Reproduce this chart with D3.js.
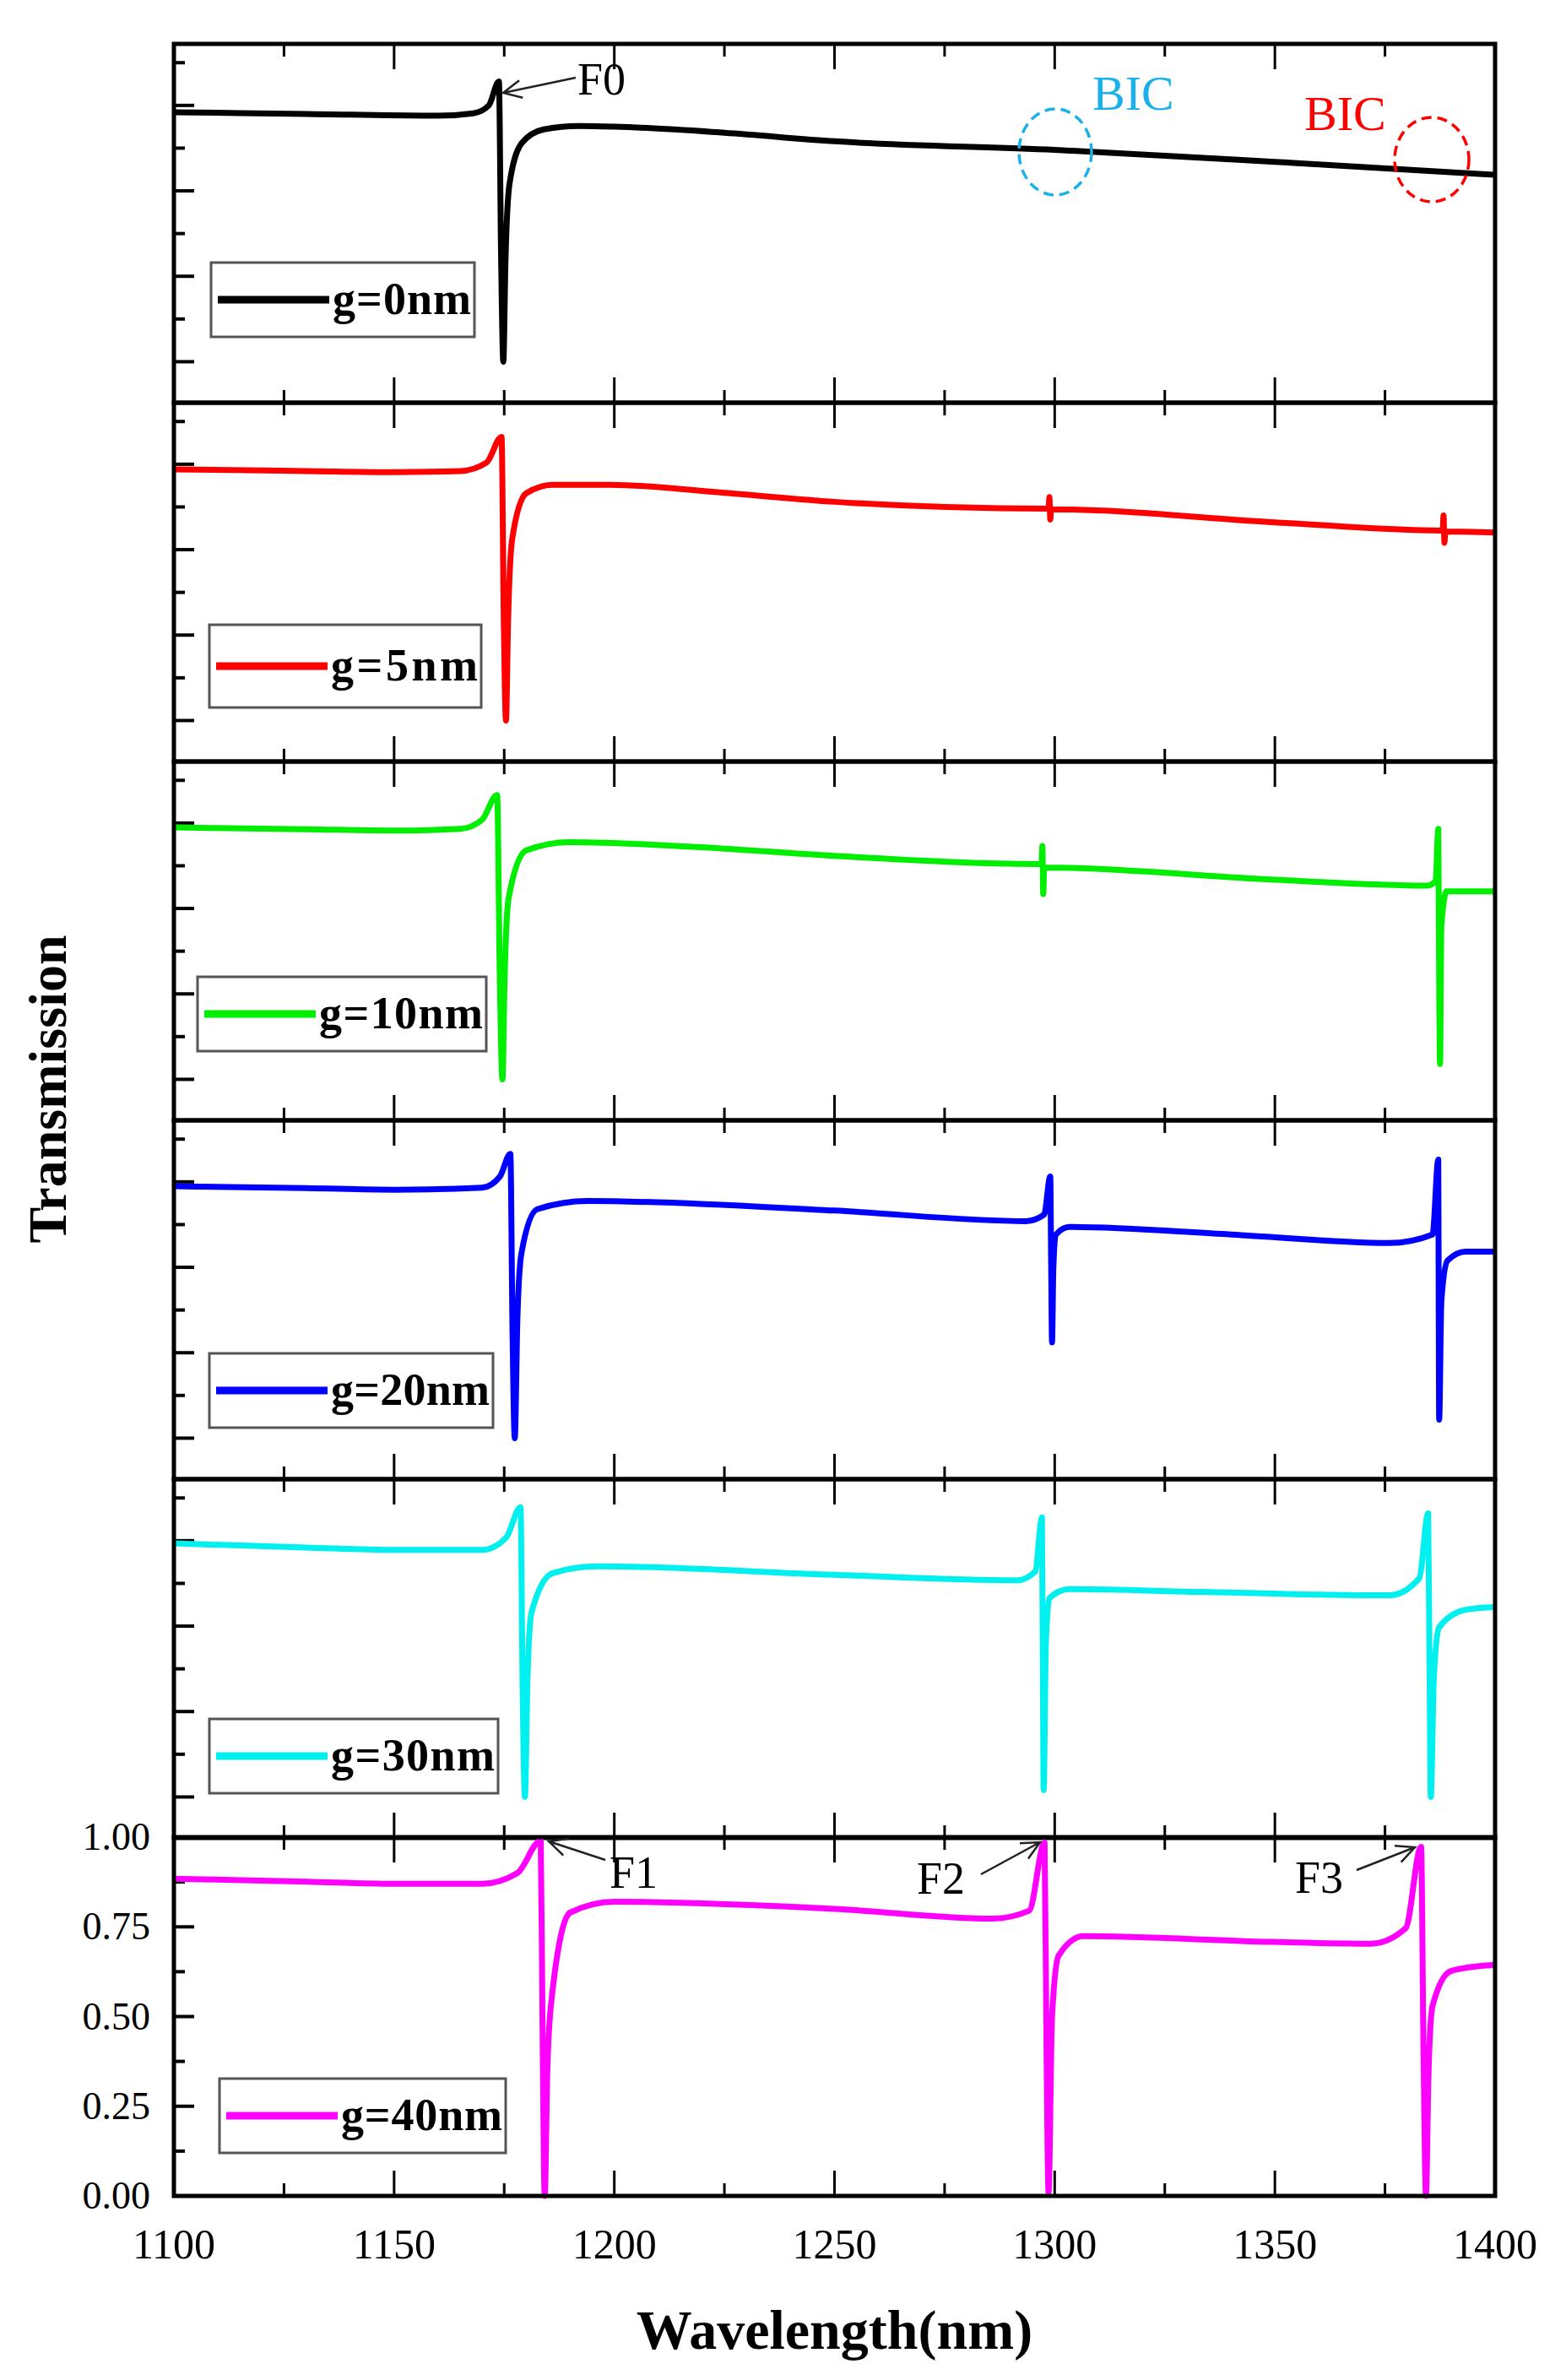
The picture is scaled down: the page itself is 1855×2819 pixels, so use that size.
<!DOCTYPE html>
<html>
<head>
<meta charset="utf-8">
<script src="https://cdn.jsdelivr.net/npm/d3@7"></script>
<style>
  body { margin: 0; background: #fff; }
  svg text { font-family: "Liberation Serif", "Times New Roman", serif; }
</style>
</head>
<body>
<svg id="chart" width="1855" height="2819"></svg>
<script>
// series labels, colours and transmission spectra
const labels = ['g=0nm', 'g=5nm', 'g=10nm', 'g=20nm', 'g=30nm', 'g=40nm'];
const colors = ['#000000', '#ff0000', '#00ee00', '#0000ff', '#00f0f0', '#ff00ff'];

const g0 = [[1100,0.73],[1130,0.725],[1160,0.72],[1168,0.727],[1171.5,0.75],[1173.8,0.82],[1174.3,0.3],[1174.8,0.0],[1175.3,0.3],[1176.2,0.52],[1179,0.64],[1184,0.68],[1192,0.69],[1200,0.688],[1225,0.67],[1250,0.645],[1300,0.62],[1350,0.585],[1400,0.547]];
const g5 = [[1100,0.735],[1130,0.73],[1150,0.727],[1165,0.73],[1171,0.755],[1174.4,0.83],[1174.9,0.3],[1175.4,0.0],[1175.9,0.3],[1176.8,0.53],[1180,0.665],[1186,0.69],[1199,0.69],[1225,0.666],[1250,0.64],[1298.6,0.62],[1298.8,0.654],[1299.0,0.588],[1299.2,0.618],[1350,0.58],[1388.1,0.556],[1388.3,0.6],[1388.5,0.52],[1388.7,0.553],[1400,0.55]];
const g10 = [[1100,0.737],[1130,0.732],[1150,0.728],[1165,0.733],[1170,0.76],[1173.4,0.832],[1174.0,0.3],[1174.6,0.0],[1175.1,0.3],[1176,0.53],[1180,0.67],[1190,0.694],[1225,0.675],[1250,0.654],[1297.0,0.63],[1297.2,0.683],[1297.4,0.542],[1297.6,0.62],[1350,0.584],[1384.5,0.567],[1386.5,0.58],[1387.1,0.733],[1387.3,0.3],[1387.5,0.045],[1387.8,0.45],[1389,0.55],[1400,0.55]];
const g20 = [[1100,0.737],[1130,0.732],[1150,0.727],[1170,0.733],[1174,0.765],[1176.4,0.832],[1176.9,0.3],[1177.4,0.0],[1178,0.35],[1178.9,0.54],[1182.5,0.67],[1194,0.694],[1250,0.666],[1293.5,0.635],[1297.6,0.654],[1299.0,0.766],[1299.2,0.5],[1299.4,0.28],[1299.7,0.5],[1300.3,0.596],[1303.3,0.618],[1340,0.596],[1376,0.571],[1385.8,0.596],[1387.1,0.815],[1387.2,0.4],[1387.3,0.054],[1387.8,0.4],[1389.2,0.52],[1393.3,0.546],[1400,0.546]];
const g30 = [[1100,0.742],[1130,0.73],[1150,0.723],[1170,0.723],[1175.5,0.76],[1178.7,0.848],[1179.2,0.3],[1179.7,0.0],[1180.3,0.35],[1181.2,0.54],[1186,0.655],[1196,0.675],[1250,0.65],[1291.5,0.634],[1295.6,0.66],[1297.1,0.818],[1297.3,0.4],[1297.5,0.02],[1298.0,0.45],[1298.8,0.582],[1303.3,0.608],[1333,0.6],[1376,0.59],[1382.8,0.64],[1384.8,0.83],[1385.1,0.4],[1385.4,0.0],[1386.1,0.35],[1387.3,0.497],[1393.3,0.548],[1400,0.556]];
const g40 = [[1100,0.884],[1130,0.876],[1150,0.87],[1170,0.87],[1178,0.9],[1183.3,0.99],[1183.75,0.4],[1184.2,0.0],[1184.8,0.35],[1185.6,0.53],[1190,0.79],[1200,0.82],[1250,0.8],[1286,0.773],[1294.2,0.795],[1297.7,0.984],[1298.15,0.4],[1298.6,0.01],[1299.4,0.5],[1300.9,0.67],[1306.5,0.724],[1349.3,0.708],[1371.8,0.703],[1379.7,0.746],[1383.2,0.973],[1383.75,0.4],[1384.3,0.0],[1384.9,0.35],[1385.8,0.53],[1390,0.627],[1398.7,0.643],[1400,0.644]];
const series = [g0, g5, g10, g20, g30, g40];

const xTicks = [1100, 1150, 1200, 1250, 1300, 1350, 1400];
const yTickLabels = ['0.00', '0.25', '0.50', '0.75', '1.00'];

// layout
const left = 206, right = 1771;
const panelTops = [52, 477, 902, 1327, 1752, 2176];
const panelH = 425;
const legendBoxes = [[250, 259, 312, 88], [248, 263, 322, 98], [234, 255, 342, 88], [248, 276, 336, 88], [248, 284, 342, 88], [260, 286, 339, 88]];

const svg = d3.select('#chart');
const x = d3.scaleLinear().domain([1100, 1400]).range([left, right]);
const line = d3.line().curve(d3.curveMonotoneX);

series.forEach((data, i) => {
  const top = panelTops[i];
  const bottom = top + panelH;
  const last = i === series.length - 1;
  const y = d3.scaleLinear().domain(last ? [0, 1] : [-0.12, 0.93]).range([bottom, top]);
  const g = svg.append('g');

  // ticks on top and bottom, pointing inward
  const xMinor = d3.range(1100, 1401, 25);
  [bottom, top].forEach((yy, k) => {
    g.selectAll(null).data(xMinor).join('line')
      .attr('x1', d => x(d)).attr('x2', d => x(d))
      .attr('y1', yy)
      .attr('y2', d => yy + (k === 0 ? -1 : 1) * (d % 50 === 0 ? 30 : 15))
      .attr('stroke', '#000').attr('stroke-width', 3);
  });
  // y ticks on left
  const yVals = d3.range(0, last ? 1.001 : 0.876, 0.125);
  g.selectAll(null).data(yVals).join('line')
    .attr('x1', left).attr('x2', (d, j) => left + (j % 2 === 0 ? 24 : 13))
    .attr('y1', d => y(d)).attr('y2', d => y(d))
    .attr('stroke', '#000').attr('stroke-width', 4);

  // curve
  g.append('path')
    .attr('d', line(data.map(d => [x(d[0]), y(d[1])])))
    .attr('fill', 'none').attr('stroke', colors[i]).attr('stroke-width', 7)
    .attr('stroke-linejoin', 'round');

  // frame
  g.append('rect').attr('x', left).attr('y', top).attr('width', right - left).attr('height', panelH)
    .attr('fill', 'none').attr('stroke', '#000').attr('stroke-width', 5);

  // legend
  const [lx, ly, lw, lh] = legendBoxes[i];
  const lg = g.append('g').attr('transform', `translate(${lx},${top + ly})`);
  lg.append('rect').attr('width', lw).attr('height', lh).attr('fill', '#fff')
    .attr('stroke', '#555').attr('stroke-width', 3);
  lg.append('line').attr('x1', 8).attr('x2', 140).attr('y1', lh / 2).attr('y2', lh / 2)
    .attr('stroke', colors[i]).attr('stroke-width', 9);
  lg.append('text').attr('x', lw - 4).attr('y', lh / 2 + 17).attr('text-anchor', 'end')
    .attr('font-size', 54).attr('font-weight', 'bold').attr('textLength', lw - 148)
    .text(labels[i]);

  if (last) {
    g.selectAll(null).data(yTickLabels).join('text')
      .attr('x', 178).attr('y', (d, j) => y(j * 0.25) + 15)
      .attr('text-anchor', 'end').attr('font-size', 46).text(d => d);
    g.selectAll(null).data(xTicks).join('text')
      .attr('x', d => x(d)).attr('y', bottom + 74)
      .attr('text-anchor', 'middle').attr('font-size', 50).text(d => d);
  }
});

// axis titles
svg.append('text').attr('x', (left + right) / 2).attr('y', 2782).attr('text-anchor', 'middle')
  .attr('font-size', 66).attr('font-weight', 'bold').text('Wavelength(nm)');
svg.append('text').attr('transform', 'translate(78,1290) rotate(-90)').attr('text-anchor', 'middle')
  .attr('font-size', 64).attr('font-weight', 'bold').text('Transmission');

// annotations
const arrow = (x1, y1, x2, y2) => {
  const a = Math.atan2(y2 - y1, x2 - x1), h = 24;
  svg.append('path')
    .attr('d', `M${x1},${y1}L${x2},${y2}M${x2 - h * Math.cos(a - 0.45)},${y2 - h * Math.sin(a - 0.45)}L${x2},${y2}L${x2 - h * Math.cos(a + 0.45)},${y2 - h * Math.sin(a + 0.45)}`)
    .attr('fill', 'none').attr('stroke', '#222').attr('stroke-width', 2.5);
};
const note = (t, tx, ty, color, size) => svg.append('text').attr('x', tx).attr('y', ty)
  .attr('font-size', size).attr('fill', color).text(t);

note('F0', 684, 112, '#000', 54);
arrow(682, 92, 596, 110);
note('BIC', 1294, 130, '#1ab0ea', 58);
note('BIC', 1545, 154, '#ff0000', 58);
svg.append('ellipse').attr('cx', 1250).attr('cy', 180).attr('rx', 43).attr('ry', 51)
  .attr('fill', 'none').attr('stroke', '#1ab0ea').attr('stroke-width', 3.5).attr('stroke-dasharray', '12,7');
svg.append('ellipse').attr('cx', 1696).attr('cy', 189).attr('rx', 44).attr('ry', 50)
  .attr('fill', 'none').attr('stroke', '#ff0000').attr('stroke-width', 3.5).attr('stroke-dasharray', '12,7');

note('F1', 722, 2236, '#000', 54);
arrow(717, 2203, 650, 2181);
note('F2', 1086, 2243, '#000', 54);
arrow(1162, 2220, 1232, 2182);
note('F3', 1534, 2242, '#000', 54);
arrow(1607, 2215, 1676, 2188);
</script>
</body>
</html>
